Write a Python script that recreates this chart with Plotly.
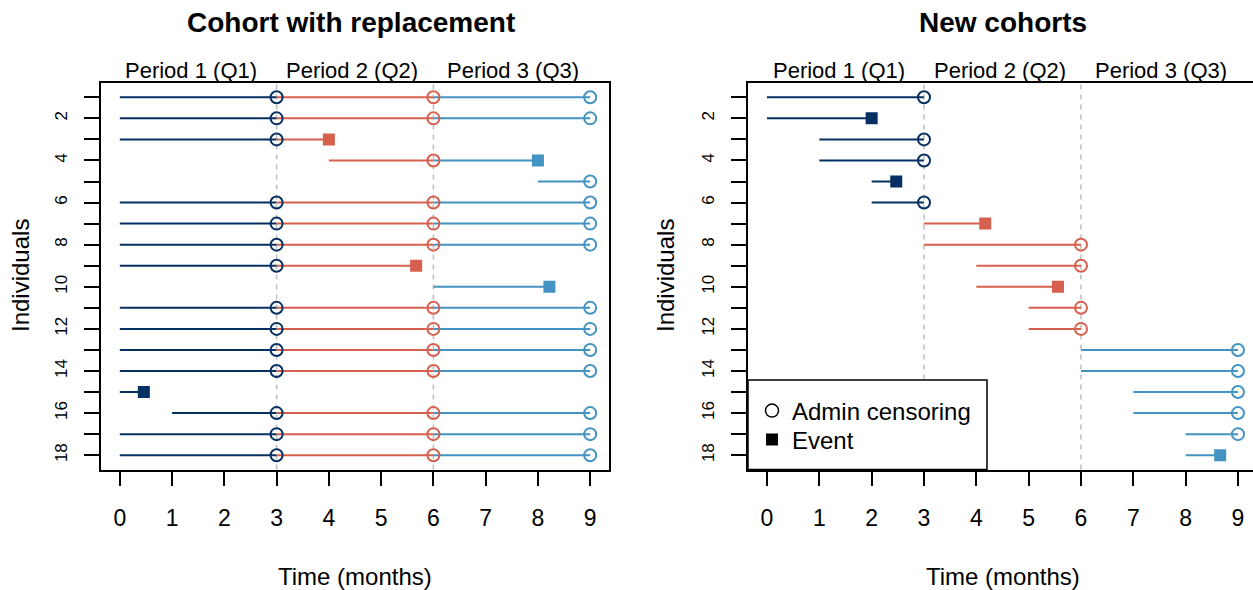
import plotly.graph_objects as go

# ---------------- data ----------------
period_colors = ["#053061", "#D6604D", "#4393C3"]
period_labels = ["Period 1 (Q1)", "Period 2 (Q2)", "Period 3 (Q3)"]
period_label_x = [1.37, 4.45, 7.52]
x_ticks = list(range(10))
y_ticks = list(range(1, 19))
y_ticktext = [str(v) if v % 2 == 0 else "" for v in y_ticks]
panel_titles = ["Cohort with replacement", "New cohorts"]

# Cohort with replacement: one row per follow-up segment
cr_id = [1, 1, 1, 2, 2, 2, 3, 3, 4, 4, 5,
         6, 6, 6, 7, 7, 7, 8, 8, 8, 9, 9, 10,
         11, 11, 11, 12, 12, 12, 13, 13, 13, 14, 14, 14,
         15, 16, 16, 16, 17, 17, 17, 18, 18, 18]
cr_start = [0, 3, 6, 0, 3, 6, 0, 3, 4, 6, 8,
            0, 3, 6, 0, 3, 6, 0, 3, 6, 0, 3, 6,
            0, 3, 6, 0, 3, 6, 0, 3, 6, 0, 3, 6,
            0, 1, 3, 6, 0, 3, 6, 0, 3, 6]
cr_stop = [3, 6, 9, 3, 6, 9, 3, 4, 6, 8, 9,
           3, 6, 9, 3, 6, 9, 3, 6, 9, 3, 5.67, 8.22,
           3, 6, 9, 3, 6, 9, 3, 6, 9, 3, 6, 9,
           0.46, 3, 6, 9, 3, 6, 9, 3, 6, 9]
cr_period = [1, 2, 3, 1, 2, 3, 1, 2, 2, 3, 3,
             1, 2, 3, 1, 2, 3, 1, 2, 3, 1, 2, 3,
             1, 2, 3, 1, 2, 3, 1, 2, 3, 1, 2, 3,
             1, 1, 2, 3, 1, 2, 3, 1, 2, 3]
cr_event = [0, 0, 0, 0, 0, 0, 0, 1, 0, 1, 0,
            0, 0, 0, 0, 0, 0, 0, 0, 0, 0, 1, 1,
            0, 0, 0, 0, 0, 0, 0, 0, 0, 0, 0, 0,
            1, 0, 0, 0, 0, 0, 0, 0, 0, 0]

# New cohorts
nc_id = list(range(1, 19))
nc_start = [0, 0, 1, 1, 2, 2, 3, 3, 4, 4, 5, 5, 6, 6, 7, 7, 8, 8]
nc_stop = [3, 2, 3, 3, 2.47, 3, 4.17, 6, 6, 5.56, 6, 6, 9, 9, 9, 9, 9, 8.66]
nc_period = [1, 1, 1, 1, 1, 1, 2, 2, 2, 2, 2, 2, 3, 3, 3, 3, 3, 3]
nc_event = [0, 1, 0, 0, 1, 0, 1, 0, 0, 1, 0, 0, 0, 0, 0, 0, 0, 1]

# ---------------- figure ----------------
W, H = 1253, 590
FONT = "Liberation Sans, Arial, Helvetica, sans-serif"
fig = go.Figure()


def add_panel(ids, starts, stops, periods, events, xa, ya):
    # segments
    for p in (1, 2, 3):
        xs, ys = [], []
        for i, s, e, pp in zip(ids, starts, stops, periods):
            if pp == p:
                xs += [s, e, None]
                ys += [i, i, None]
        fig.add_trace(go.Scatter(x=xs, y=ys, mode="lines", xaxis=xa, yaxis=ya,
                                 line=dict(color=period_colors[p - 1], width=2),
                                 showlegend=False, hoverinfo="skip"))
    # end markers
    for p in (1, 2, 3):
        cx = [e for e, pp, ev in zip(stops, periods, events) if pp == p and ev == 0]
        cy = [i for i, pp, ev in zip(ids, periods, events) if pp == p and ev == 0]
        ex = [e for e, pp, ev in zip(stops, periods, events) if pp == p and ev == 1]
        ey = [i for i, pp, ev in zip(ids, periods, events) if pp == p and ev == 1]
        col = period_colors[p - 1]
        fig.add_trace(go.Scatter(x=cx, y=cy, mode="markers", xaxis=xa, yaxis=ya,
                                 marker=dict(symbol="circle-open", size=12, color=col,
                                             line=dict(width=2, color=col)),
                                 showlegend=False))
        fig.add_trace(go.Scatter(x=ex, y=ey, mode="markers", xaxis=xa, yaxis=ya,
                                 marker=dict(symbol="square", size=12, color=col),
                                 showlegend=False))


add_panel(cr_id, cr_start, cr_stop, cr_period, cr_event, "x", "y")
add_panel(nc_id, nc_start, nc_stop, nc_period, nc_event, "x2", "y2")

# legend entries (one legend each, for exact spacing)
fig.add_trace(go.Scatter(x=[None], y=[None], mode="markers", name="Admin censoring",
                         xaxis="x2", yaxis="y2", legend="legend",
                         marker=dict(symbol="circle-open", size=13, color="black",
                                     line=dict(width=1.5, color="black"))))
fig.add_trace(go.Scatter(x=[None], y=[None], mode="markers", name="Event",
                         xaxis="x2", yaxis="y2", legend="legend2",
                         marker=dict(symbol="square", size=12, color="black")))

y_dom = [1 - 469.5 / H, 1 - 83 / H]
common_x = dict(tickvals=x_ticks, ticks="outside", ticklen=15, tickwidth=1.5,
                tickcolor="black", showline=True, linewidth=1.5, linecolor="black",
                showgrid=False, zeroline=False, tickfont=dict(size=23),
                ticklabelstandoff=12, mirror=True)
common_y = dict(tickvals=y_ticks, ticktext=y_ticktext, tickangle=-90,
                ticks="outside", ticklen=15, tickwidth=1.5, tickcolor="black",
                showline=True, linewidth=1.5, linecolor="black", showgrid=False,
                zeroline=False, tickfont=dict(size=17), range=[18.68, 0.32],
                domain=y_dom, ticklabelstandoff=10)

leg_common = dict(xanchor="left", yanchor="middle", bgcolor="rgba(0,0,0,0)",
                  borderwidth=0, font=dict(size=24), itemsizing="trace")
fig.update_layout(
    width=W, height=H, margin=dict(l=0, r=0, t=0, b=0),
    paper_bgcolor="white", plot_bgcolor="white",
    font=dict(family=FONT, color="black"),
    showlegend=True,
    xaxis=dict(domain=[101 / W, 609 / W], range=[-0.36, 9.36], anchor="y", **common_x),
    yaxis=dict(anchor="x", mirror=True, **common_y),
    xaxis2=dict(domain=[748 / W, 1.0], range=[-0.363, 9.287], anchor="y2", **common_x),
    yaxis2=dict(anchor="x2", mirror=False, **common_y),
    legend=dict(x=752 / W, y=1 - 411 / H, **leg_common),
    legend2=dict(x=752 / W, y=1 - 440 / H, **leg_common),
)

shapes = []
for xr, yr in (("x", "y domain"), ("x2", "y2 domain")):
    for v in (3, 6):
        shapes.append(dict(type="line", xref=xr, yref=yr, x0=v, x1=v, y0=0, y1=1,
                           line=dict(color="#BEBEBE", width=1.5, dash="5px,5px"),
                           layer="below"))
shapes.append(dict(type="rect", xref="paper", yref="paper",
                   x0=748 / W, x1=987 / W, y0=1 - 469.5 / H, y1=1 - 380 / H,
                   fillcolor="white", line=dict(color="black", width=1.5),
                   layer="above"))
fig.update_layout(shapes=shapes)

ann = []
for cx, t in zip([351 / W, 1002.5 / W], panel_titles):
    ann.append(dict(text="<b>%s</b>" % t, x=cx, y=1 - 22.5 / H, xref="paper", yref="paper",
                    xanchor="center", yanchor="middle", showarrow=False,
                    font=dict(size=28)))
for cx in (355 / W, 1002.5 / W):
    ann.append(dict(text="Time (months)", x=cx, y=1 - 576 / H, xref="paper", yref="paper",
                    xanchor="center", yanchor="middle", showarrow=False,
                    font=dict(size=24)))
for xr in ("x", "x2"):
    for px, lab in zip(period_label_x, period_labels):
        ann.append(dict(text=lab, x=px, y=1 - 70 / H, xref=xr, yref="paper",
                        xanchor="center", yanchor="middle", showarrow=False,
                        font=dict(size=22)))
for cx in (20 / W, 665 / W):
    ann.append(dict(text="Individuals", x=cx, y=1 - 276 / H, xref="paper", yref="paper",
                    xanchor="center", yanchor="middle", showarrow=False, textangle=-90,
                    font=dict(size=24)))
fig.update_layout(annotations=ann)

fig.write_html("out.html", config={"displayModeBar": False},
               post_script="document.body.style.margin='0';document.body.style.padding='0';")
